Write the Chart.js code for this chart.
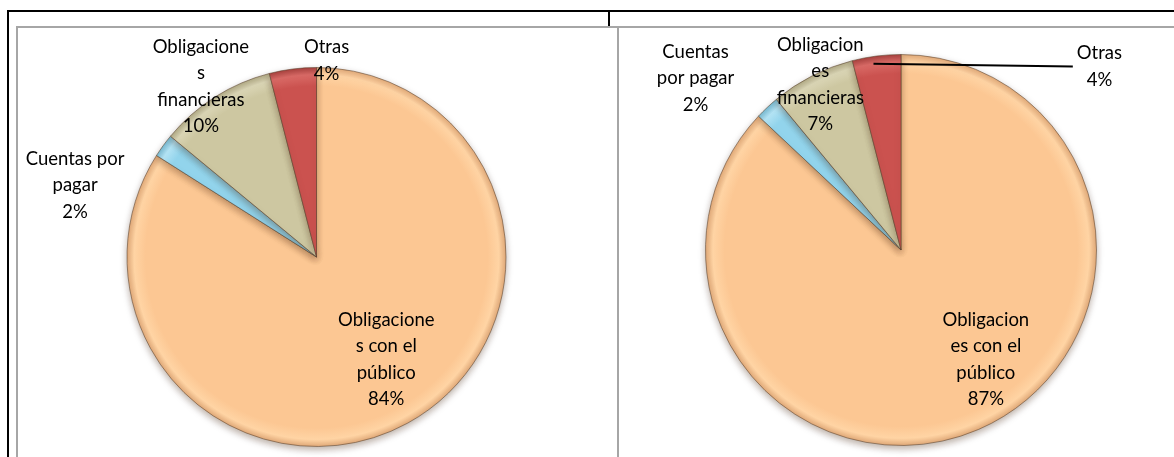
<!DOCTYPE html>
<html>
<head>
<meta charset="utf-8">
<script src="https://cdn.jsdelivr.net/npm/chart.js@4"></script>
<style>
  body { margin: 0; background: #fff; width: 1174px; height: 457px; overflow: hidden; position: relative; }
  .line { position: absolute; }
  canvas { position: absolute; }
</style>
</head>
<body>
<!-- table borders around the two charts -->
<div class="line" style="left:7px;top:10px;width:1167px;height:2px;background:#000"></div>
<div class="line" style="left:7px;top:10px;width:2px;height:447px;background:#000"></div>
<div class="line" style="left:608px;top:10px;width:2px;height:17px;background:#000"></div>
<div class="line" style="left:16px;top:26px;width:1158px;height:2px;background:#a6a6a6"></div>
<div class="line" style="left:16px;top:26px;width:2px;height:431px;background:#a6a6a6"></div>
<div class="line" style="left:617px;top:26px;width:2px;height:431px;background:#a6a6a6"></div>

<canvas id="leftPie" width="599" height="428" style="left:18px;top:29px"></canvas>
<canvas id="rightPie" width="554" height="428" style="left:620px;top:29px"></canvas>

<script>
// data
const categories = ['Obligaciones con el público', 'Cuentas por pagar', 'Obligaciones financieras', 'Otras'];
const leftValues = [84, 2, 10, 4];
const rightValues = [87, 2, 7, 4];

// wrapped label text, as in the original
const leftLabelLines = [['Obligacione', 's con el', 'público'], ['Cuentas por', 'pagar'], ['Obligacione', 's', 'financieras'], ['Otras']];
const rightLabelLines = [['Obligacion', 'es con el', 'público'], ['Cuentas', 'por pagar'], ['Obligacion', 'es', 'financieras'], ['Otras']];

// base, rim highlight, rim shadow
const sliceColors = [
  ['#FCC793', '#FFD4A4', '#E0A877'],
  ['#92D4EC', '#B3E3F4', '#74B8D0'],
  ['#CDC7A1', '#DAD5B5', '#ADA782'],
  ['#CB524F', '#D96A66', '#A43F3C']
];

function shaded(c) {
  const col = sliceColors[c.dataIndex];
  const a = c.chart.chartArea;
  if (!a) return col[0];
  const cx = (a.left + a.right) / 2, cy = (a.top + a.bottom) / 2;
  const r = Math.min(a.right - a.left, a.bottom - a.top) / 2;
  const g = c.chart.ctx.createRadialGradient(cx, cy, 0, cx, cy, r);
  g.addColorStop(0, col[0]);
  g.addColorStop(0.9, col[0]);
  g.addColorStop(0.96, col[1]);
  g.addColorStop(1, col[2]);
  return g;
}

// soft shadow under the pie
const pieShadow = {
  id: 'pieShadow',
  beforeDatasetsDraw(chart) {
    const ctx = chart.ctx;
    ctx.save();
    ctx.shadowColor = 'rgba(60,30,0,0.35)';
    ctx.shadowBlur = 7;
    ctx.shadowOffsetY = 3;
  },
  afterDatasetsDraw(chart) {
    chart.ctx.restore();
  }
};

// data labels (name + percentage), placed relative to the pie centre in radius units
const sliceLabels = {
  id: 'sliceLabels',
  afterDraw(chart, args, opts) {
    const meta = chart.getDatasetMeta(0);
    const first = meta.data[0];
    const cx = first.x, cy = first.y, r = first.outerRadius;
    const values = chart.data.datasets[0].data;
    const total = values.reduce((a, b) => a + b, 0);
    const ctx = chart.ctx;
    ctx.save();
    ctx.font = opts.font;
    ctx.fillStyle = '#000';
    ctx.textAlign = 'center';
    ctx.textBaseline = 'middle';
    meta.data.forEach((arc, i) => {
      const lines = opts.lines[i].concat([Math.round(values[i] / total * 100) + '%']);
      const x = cx + opts.pos[i][0] * r;
      const yc = cy + opts.pos[i][1] * r;
      const y0 = yc - (lines.length - 1) * opts.lineHeight / 2;
      if (opts.leader && opts.leader[i]) {
        const mid = (arc.startAngle + arc.endAngle) / 2;
        const w = Math.max(...lines.map(t => ctx.measureText(t).width));
        ctx.beginPath();
        ctx.strokeStyle = '#000';
        ctx.lineWidth = 2;
        ctx.moveTo(cx + Math.cos(mid) * r * 0.96 - 4, cy + Math.sin(mid) * r * 0.96);
        ctx.lineTo(x - w / 2 - 4, yc);
        ctx.stroke();
      }
      lines.forEach((t, k) => ctx.fillText(t, x, y0 + k * opts.lineHeight));
    });
    ctx.restore();
  }
};

function makePie(id, values, lines, pos, padding, leader) {
  return new Chart(document.getElementById(id).getContext('2d'), {
    type: 'pie',
    data: {
      labels: categories,
      datasets: [{
        data: values,
        backgroundColor: shaded,
        borderColor: 'rgba(90,65,45,0.55)',
        borderWidth: 1
      }]
    },
    options: {
      responsive: false,
      animation: false,
      layout: { padding },
      plugins: {
        legend: { display: false },
        tooltip: { enabled: false },
        sliceLabels: { lines, pos, leader, font: '18.5px Lato', lineHeight: 26.5 }
      }
    },
    plugins: [pieShadow, sliceLabels]
  });
}

makePie('leftPie', leftValues, leftLabelLines,
  [[0.368, 0.542], [-1.274, -0.379], [-0.61, -0.9], [0.053, -1.037]],
  { left: 0, right: 2, top: 38, bottom: 10 });

makePie('rightPie', rightValues, rightLabelLines,
  [[0.434, 0.561], [-1.051, -0.878], [-0.413, -0.847], [1.015, -0.939]],
  { left: 8, right: 0, top: 25, bottom: 11 },
  [false, false, false, true]);
</script>
</body>
</html>
